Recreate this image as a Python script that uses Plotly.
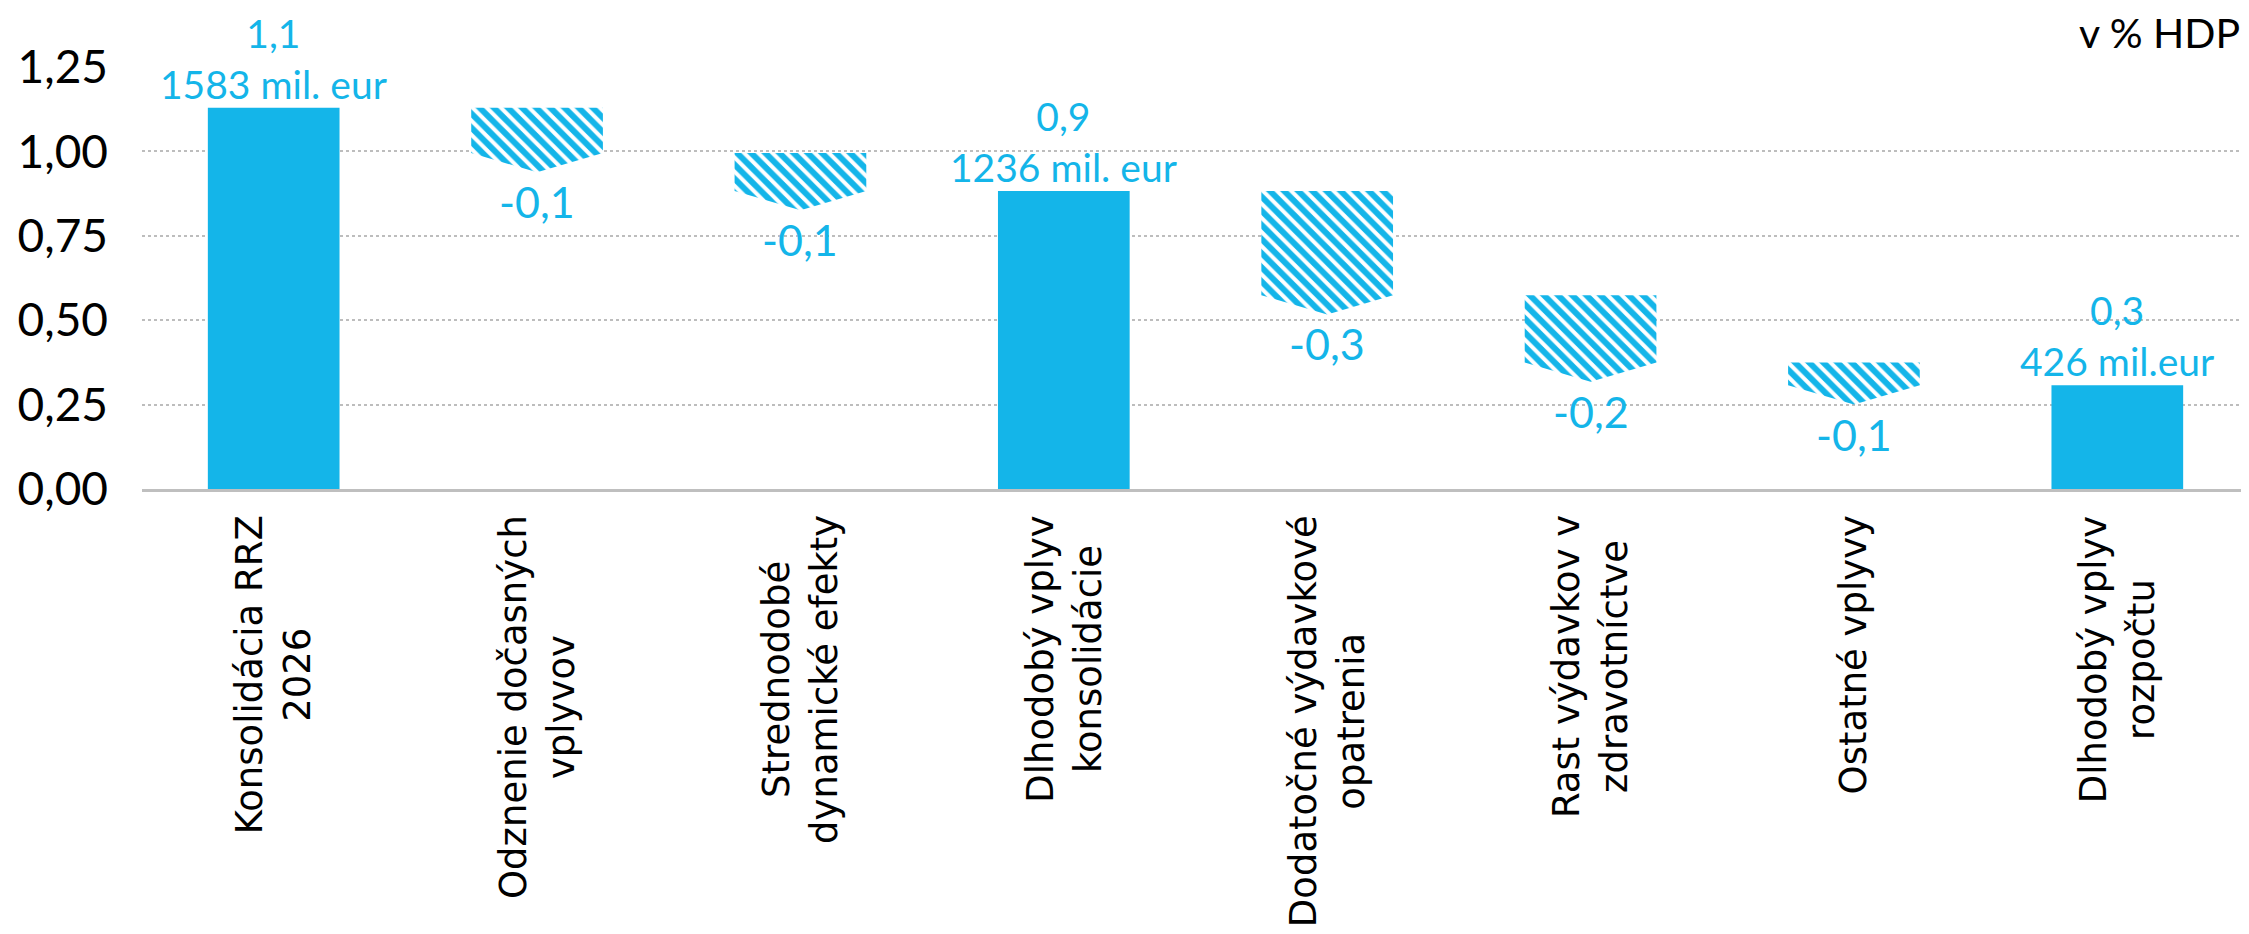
import plotly.graph_objects as go

# ---------------- data ----------------
categories = [
    "Konsolidácia RRZ<br>2026",
    "Odznenie dočasných<br>vplyvov",
    "Strednodobé<br>dynamické efekty",
    "Dlhodobý vplyv<br>konsolidácie",
    "Dodatočné výdavkové<br>opatrenia",
    "Rast výdavkov v<br>zdravotníctve",
    "Ostatné vplyvy",
    "Dlhodobý vplyv<br>rozpočtu",
]
# measure type: "total" = solid bar, "delta" = hatched arrow
kinds = ["total", "delta", "delta", "total", "delta", "delta", "delta", "total"]
values = [1.129, -0.134, -0.112, 0.883, -0.309, -0.199, -0.068, 0.307]
value_labels = ["1,1", "-0,1", "-0,1", "0,9", "-0,3", "-0,2", "-0,1", "0,3"]
eur_labels = ["1583 mil. eur", "", "", "1236 mil. eur", "", "", "", "426 mil.eur"]
y_ticks = [0, 0.25, 0.5, 0.75, 1.0, 1.25]
unit_label = "v % HDP"

# ---------------- style ----------------
BLUE = "#14B5E9"
BAR_W = 0.5
TIP = 0.057          # depth of the arrow tip (axis units)
NUM_FONT = "Lato"
CAT_FONT = "DejaVu Sans"

fig = go.Figure()

idx = list(range(len(categories)))
tot_x = [i for i in idx if kinds[i] == "total"]
tot_y = [values[i] for i in idx if kinds[i] == "total"]

fig.add_trace(go.Bar(
    x=tot_x, y=tot_y, width=BAR_W, marker=dict(color=BLUE, line=dict(width=0)),
    hoverinfo="skip", showlegend=False,
))

annotations = []
level = 0.0
for i in idx:
    if kinds[i] == "total":
        level = values[i]
        annotations.append(dict(
            x=i, y=level, xref="x", yref="y", xanchor="center", yanchor="bottom",
            text=value_labels[i] + "<br>" + eur_labels[i], showarrow=False,
            font=dict(family=NUM_FONT, size=39, color=BLUE), yshift=-1,
        ))
    else:
        start = level
        end = level + values[i]
        xl, xr = i - BAR_W / 2, i + BAR_W / 2
        fig.add_trace(go.Scatter(
            x=[xl, xr, xr, i, xl, xl],
            y=[start, start, end, end - TIP, end, start],
            mode="lines", fill="toself", line=dict(width=0, color="rgba(0,0,0,0)"),
            fillcolor="white",
            fillpattern=dict(shape="\\", fgcolor=BLUE, bgcolor="white",
                             fgopacity=1, size=10, solidity=0.6),
            hoverinfo="skip", showlegend=False,
        ))
        annotations.append(dict(
            x=i, y=end - TIP, xref="x", yref="y", xanchor="center", yanchor="top",
            text=value_labels[i], showarrow=False,
            font=dict(family=NUM_FONT, size=43, color=BLUE), yshift=-2,
        ))
        level = end

for i in idx:
    annotations.append(dict(
        x=i, y=0, xref="x", yref="paper", xanchor="center", yanchor="top",
        text=categories[i], showarrow=False, textangle=-90, align="center",
        font=dict(family=CAT_FONT, size=37, color="black"), yshift=-24,
    ))

annotations.append(dict(
    x=1, y=1, xref="paper", yref="paper", xanchor="right", yanchor="bottom",
    text=unit_label, showarrow=False, xshift=-7, yshift=8,
    font=dict(family=NUM_FONT, size=41, color="black"),
))

fig.update_layout(
    width=2249, height=934,
    margin=dict(l=134, r=8, t=59, b=453, pad=0),
    paper_bgcolor="white", plot_bgcolor="white",
    separators=", ",
    bargap=0.5,
    annotations=annotations,
    showlegend=False,
)
fig.update_xaxes(
    range=[-0.5, len(categories) - 0.5], showgrid=False, zeroline=False,
    showticklabels=False, ticks="", showline=True, linecolor="#BFBFBF", linewidth=3,
    fixedrange=True,
)
fig.update_yaxes(
    range=[0, 1.25], tickvals=y_ticks, tickformat=".2f",
    showgrid=True, gridcolor="#BDBDBD", gridwidth=2, griddash="dot",
    zeroline=False, showline=False, ticks="",
    tickfont=dict(family=NUM_FONT, size=46, color="black"),
    ticklabelstandoff=33, fixedrange=True,
)

for tr in fig.data:
    tr.cliponaxis = False

fig.write_html("out.html")
